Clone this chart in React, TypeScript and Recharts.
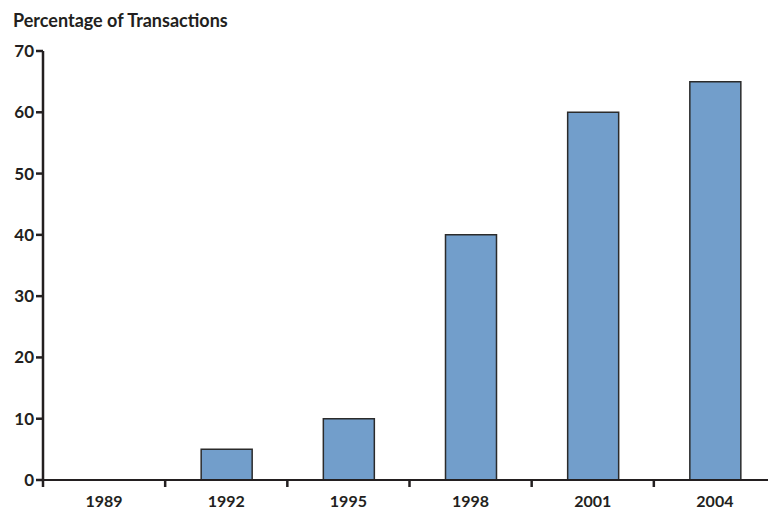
import React from "react";
import { BarChart, Bar, XAxis, YAxis } from "recharts";

const years = ["1989", "1992", "1995", "1998", "2001", "2004"];
const percentages = [0, 5, 10, 40, 60, 65];
const yTicks = [0, 10, 20, 30, 40, 50, 60, 70];

const data = years.map((y, i) => ({ year: y, value: percentages[i] }));

const INK = "#231f20";
const FONT = "Lato, 'Open Sans', sans-serif";
const CHART_W = 776;
const CHART_H = 510;
const Y_AXIS_W = 43;
const HALF_BAND = (CHART_W - Y_AXIS_W) / years.length / 2;

const XTick = (props: any) => {
  const { x, y, payload } = props;
  const half = payload && payload.offset ? payload.offset : HALF_BAND;
  return (
    <g>
      <line x1={x - half} x2={x - half} y1={y - 1} y2={y + 7} stroke={INK} strokeWidth={2.5} />
      <text
        x={x}
        y={y + 27}
        textAnchor="middle"
        fill={INK}
        fontFamily={FONT}
        fontWeight={700}
        fontSize={16}
      >
        {payload.value}
      </text>
    </g>
  );
};

export default function App() {
  return (
    <div
      style={{
        position: "absolute",
        left: 0,
        top: 0,
        width: 768,
        height: 510,
        overflow: "hidden",
        background: "#fff",
      }}
    >
      <div
        style={{
          position: "absolute",
          left: 13,
          top: 10,
          fontFamily: FONT,
          fontWeight: 700,
          fontSize: 18,
          lineHeight: "21.6px",
          color: INK,
          whiteSpace: "nowrap",
        }}
      >
        Percentage of Transactions
      </div>
      <div style={{ position: "absolute", left: 0, top: 0 }}>
        <BarChart
          width={CHART_W}
          height={CHART_H}
          data={data}
          margin={{ top: 51, right: 0, bottom: 0, left: 0 }}
          barCategoryGap={0}
        >
          <XAxis
            dataKey="year"
            height={30}
            tickSize={0}
            tickMargin={0}
            tickLine={false}
            axisLine={{ stroke: INK, strokeWidth: 2 }}
            tick={<XTick />}
            interval={0}
          />
          <YAxis
            width={Y_AXIS_W}
            domain={[0, 70]}
            ticks={yTicks}
            interval={0}
            tickSize={7}
            tickMargin={2}
            axisLine={{ stroke: INK, strokeWidth: 2.5 }}
            tickLine={{ stroke: INK, strokeWidth: 2.5 }}
            tick={{ fill: INK, fontFamily: FONT, fontWeight: 700, fontSize: 17 }}
          />
          <Bar
            dataKey="value"
            fill="#729ecb"
            stroke="#2b2b2b"
            strokeWidth={1.5}
            barSize={51}
            isAnimationActive={false}
          />
        </BarChart>
      </div>
    </div>
  );
}
